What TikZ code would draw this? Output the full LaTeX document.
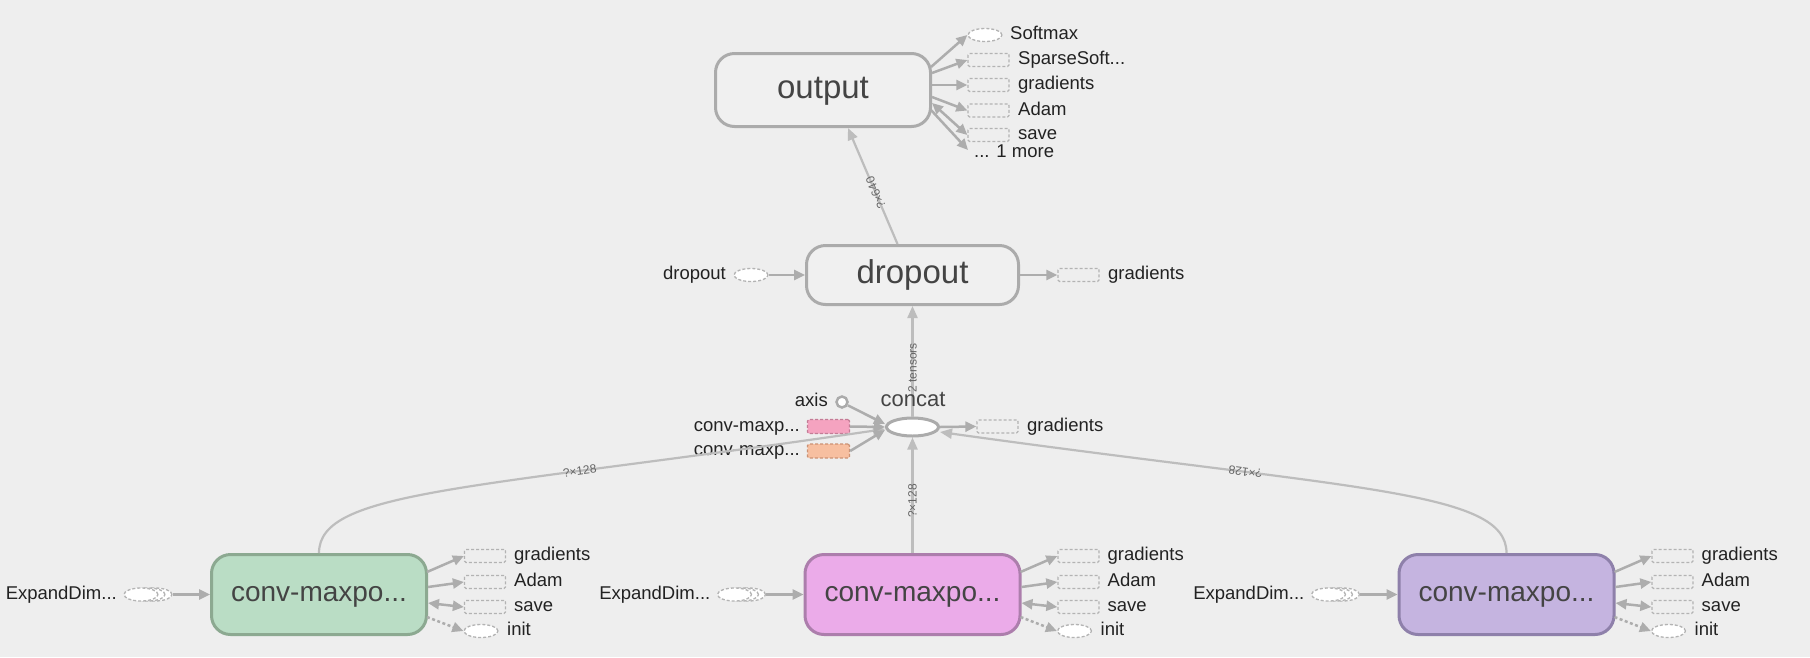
\documentclass[tikz,border=0pt]{standalone}
\usepackage{fontspec}
\setmainfont{Liberation Sans}
\usetikzlibrary{arrows.meta,shapes.geometric,calc}
\definecolor{bg}{HTML}{EEEEEE}
\definecolor{boxgray}{HTML}{ABABAB}
\definecolor{boxfill}{HTML}{F0F0F0}
\definecolor{edgegray}{HTML}{ADADAD}
\definecolor{curvegray}{HTML}{BDBDBD}
\definecolor{dashgray}{HTML}{B3B3B3}
\definecolor{labeltext}{HTML}{444444}
\definecolor{txt}{HTML}{222222}
\definecolor{elabel}{HTML}{666666}
\definecolor{greenf}{HTML}{BADDC5}
\definecolor{greend}{HTML}{8CA991}
\definecolor{pinkf}{HTML}{EBABE9}
\definecolor{pinkd}{HTML}{AC7EAC}
\definecolor{purplef}{HTML}{C5B4E0}
\definecolor{purpled}{HTML}{8E80AA}
\definecolor{pinkin}{HTML}{F5A3C0}
\definecolor{pinkind}{HTML}{C47C96}
\definecolor{orangein}{HTML}{F7BFA0}
\definecolor{orangeind}{HTML}{CC9274}
\begin{document}
\begin{tikzpicture}[x=1pt,y=-1pt,
  mainbox/.style={draw=boxgray,line width=3pt,rounded corners=19pt,fill=boxfill,text=labeltext,
    font=\fontsize{33}{36}\selectfont,minimum width=215pt,minimum height=73pt,inner sep=0pt,
    text height=24pt,text depth=7pt},
  convbox/.style={mainbox,minimum height=80pt,font=\fontsize{28}{32}\selectfont,text height=20pt,text depth=6pt},
  satbox/.style={draw=dashgray,dash pattern=on 3pt off 2pt,line width=1.3pt,minimum width=41pt,minimum height=13pt,inner sep=0pt,rounded corners=1.5pt},
  satell/.style={ellipse,draw=dashgray,dash pattern=on 3pt off 2pt,line width=1.3pt,fill=white,minimum width=34pt,minimum height=13pt,inner sep=0pt},
  sattext/.style={inner sep=0pt,font=\fontsize{18.5}{21}\selectfont,text=txt,text height=13pt,text depth=4pt},
  satedge/.style={draw=edgegray,line width=2.5pt,-{Triangle[length=11pt,width=10pt]}},
  bisatedge/.style={draw=edgegray,line width=2.5pt,{Triangle[length=11pt,width=10pt]}-{Triangle[length=11pt,width=10pt]}},
  ctrledge/.style={satedge,dash pattern=on 3pt off 2.5pt},
  mainedge/.style={draw=curvegray,line width=2.2pt,-{Triangle[length=12pt,width=10pt]}},
  elab/.style={font=\fontsize{12}{13}\selectfont,text=elabel,inner sep=0pt}
]
\fill[bg] (0,0) rectangle (1810,657);
\useasboundingbox (0,0) rectangle (1810,657);

% output
\node[mainbox] (out) at (823,90) {output};
\node[satell] (osm) at (985,35) {};
\node[sattext,anchor=west] (osmt) at (1010,35) {Softmax};
\node[satbox] (oss) at (988.5,60) {};
\node[sattext,anchor=west] (osst) at (1018,60) {SparseSoft...};
\node[satbox] (ogr) at (988.5,85) {};
\node[sattext,anchor=west] (ogrt) at (1018,85) {gradients};
\node[satbox] (oad) at (988.5,110.5) {};
\node[sattext,anchor=west] (oadt) at (1018,110.5) {Adam};
\node[satbox] (osv) at (988.5,135) {};
\node[sattext,anchor=west] (osvt) at (1018,135) {save};
\node[sattext,anchor=west] (omore) at (974,153) {... 1 more};

% dropout
\node[mainbox,minimum width=212pt,minimum height=59pt] (drop) at (912.5,275) {dropout};
\node[satell] (dde) at (751,275) {};
\node[sattext,anchor=east] (ddet) at (726,275) {dropout};
\node[satbox] (dgr) at (1078.5,275) {};
\node[sattext,anchor=west] (dgrt) at (1108,275) {gradients};

% concat
\node[ellipse,draw=boxgray,line width=3pt,fill=white,minimum width=52pt,minimum height=18pt,inner sep=0pt] (cc) at (912.5,427) {};
\node[circle,draw=boxgray,line width=2.5pt,fill=white,minimum size=11pt,inner sep=0pt] (ax) at (842,402) {};
\node[sattext,anchor=east] (axt) at (828,402) {axis};
\node[satbox,fill=pinkin,draw=pinkind,minimum width=42pt,minimum height=14pt] (cpk) at (828.5,426.5) {};
\node[sattext,anchor=east] (cpkt) at (800,426.5) {conv-maxp...};
\node[satbox,fill=orangein,draw=orangeind,minimum width=42pt,minimum height=14pt] (cor) at (828.5,451) {};
\node[sattext,anchor=east] (cort) at (800,451) {conv-maxp...};
\node[satbox] (cgr) at (997.5,426.5) {};
\node[sattext,anchor=west] (cgrt) at (1027,426.5) {gradients};

% conv groups
\foreach \n/\cx/\fc/\dc in {A/319/greenf/greend,B/912.5/pinkf/pinkd,C/1506.5/purplef/purpled}{
  \node[convbox,fill=\fc,draw=\dc] (\n) at (\cx,594.5) {conv-maxpo...};
  \node[satbox] (\n grad) at ($(\n.east)+(57,-38.5)$) {};
  \node[sattext,anchor=west] (\n gradt) at ($(\n.east)+(86,-38.5)$) {gradients};
  \node[satbox] (\n adam) at ($(\n.east)+(57,-12.5)$) {};
  \node[sattext,anchor=west] (\n adamt) at ($(\n.east)+(86,-12.5)$) {Adam};
  \node[satbox] (\n save) at ($(\n.east)+(57,12.5)$) {};
  \node[sattext,anchor=west] (\n savet) at ($(\n.east)+(86,12.5)$) {save};
  \node[satell] (\n init) at ($(\n.east)+(53,36.5)$) {};
  \node[sattext,anchor=west] (\n initt) at ($(\n.east)+(79,36.5)$) {init};
  \node[satell] (\n exb) at ($(\n.west)+(-55,0)$) {};
  \node[satell] (\n exa) at ($(\n.west)+(-62,0)$) {};
  \node[satell] (\n ex) at ($(\n.west)+(-69,0)$) {};
  \node[sattext,anchor=east] (\n ext) at ($(\n.west)+(-93,0)$) {ExpandDim...};
  \draw[satedge] (\n exb.east) -- (\n.west);
  \draw[satedge] ([xshift=-1pt,yshift=22.5pt]\n.east) -- (\n grad.west);
  \draw[satedge] ([yshift=7.5pt]\n.east) -- (\n adam.west);
  \draw[bisatedge] ([yshift=-8.5pt]\n.east) -- (\n save.west);
  \draw[ctrledge] ([xshift=-1pt,yshift=-22.5pt]\n.east) -- (\n init.west);
}

% main edges
\draw[mainedge] ([xshift=-15pt]drop.north) -- ([xshift=25pt]out.south)
  node[elab,pos=0.44,sloped,allow upside down] {?×640};
\draw[mainedge] (cc.north) -- (drop.south)
  node[elab,pos=0.44,rotate=90] {2 tensors};
\draw[mainedge] (B.north) -- (cc.south)
  node[elab,pos=0.45,rotate=90] {?×128};
\draw[mainedge] (A.north) .. controls (319,490) and (470,490) .. ([yshift=-2pt]cc.west)
  node[elab,pos=0.7,sloped] {?×128};
\draw[mainedge] (C.north) .. controls (1506.5,490) and (1355,490) .. ([yshift=-5pt]cc.east)
  node[elab,pos=0.7,sloped,allow upside down] {?×128};

% concat inputs
\draw[satedge] (ax.-30) -- ([yshift=3pt]cc.west);
\draw[satedge] (cpk.east) -- (cc.west);
\draw[satedge] (cor.east) -- ([yshift=-3pt]cc.west);
\draw[satedge] (cc.east) -- (cgr.west);
\node[font=\fontsize{22}{24}\selectfont,text=labeltext,inner sep=0pt] (cct) at (913,399) {concat};

% dropout edges
\draw[satedge] (dde.east) -- (drop.west);
\draw[satedge] (drop.east) -- (dgr.west);

% output edges
\draw[satedge] ([xshift=-1pt,yshift=23pt]out.east) -- (osm.west);
\draw[satedge] ([yshift=17pt]out.east) -- (oss.west);
\draw[satedge] ([yshift=5pt]out.east) -- (ogr.west);
\draw[satedge] ([yshift=-7pt]out.east) -- (oad.west);
\draw[bisatedge] ([yshift=-13pt]out.east) -- (osv.west);
\draw[satedge] ([xshift=-1pt,yshift=-20pt]out.east) -- ([xshift=-6pt,yshift=3pt]omore.west);
\end{tikzpicture}
\end{document}
